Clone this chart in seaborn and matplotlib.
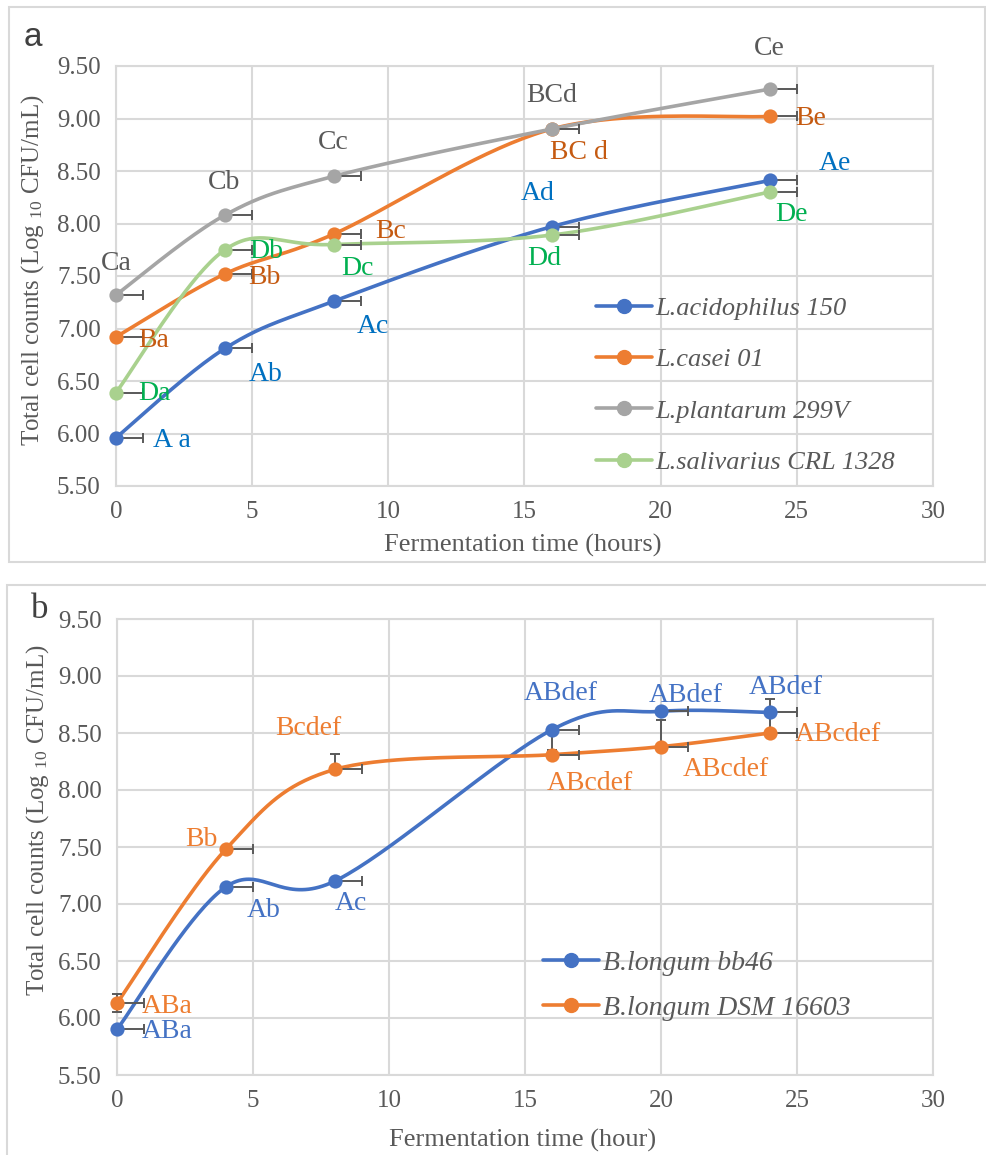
import numpy as np
import pandas as pd
import matplotlib
matplotlib.use("Agg")
import matplotlib.pyplot as plt
import seaborn as sns
from matplotlib.lines import Line2D
from matplotlib.patches import Rectangle

# ---------------- data ----------------
time_a = [0, 4, 8, 16, 24]
acidophilus = [5.96, 6.81, 7.26, 7.97, 8.41]
casei = [6.92, 7.52, 7.90, 8.90, 9.02]
plantarum = [7.32, 8.08, 8.45, 8.90, 9.28]
salivarius = [6.39, 7.75, 7.80, 7.89, 8.30]
names_a = ["L.acidophilus 150", "L.casei 01", "L.plantarum 299V", "L.salivarius CRL 1328"]

labels_acid = ["A a", "Ab", "Ac", "Ad", "Ae"]
labels_casei = ["Ba", "Bb", "Bc", "BC d", "Be"]
labels_plant = ["Ca", "Cb", "Cc", "BCd", "Ce"]
labels_saliv = ["Da", "Db", "Dc", "Dd", "De"]

time_b = [0, 4, 8, 16, 20, 24]
bb46 = [5.90, 7.15, 7.20, 8.53, 8.69, 8.68]
dsm16603 = [6.13, 7.48, 8.18, 8.31, 8.38, 8.50]
names_b = ["B.longum bb46", "B.longum DSM 16603"]
labels_bb46 = ["ABa", "Ab", "Ac", "ABdef", "ABdef", "ABdef"]
labels_dsm = ["ABa", "Bb", "Bcdef", "ABcdef", "ABcdef", "ABcdef"]

# error bars (x: +1 h; y: asymmetric)
xerr_plus = 1.0
bb46_yerr_low = [0, 0, 0, 0.18, 0, 0.16]
bb46_yerr_high = [0, 0, 0, 0, 0, 0.12]
dsm_yerr_low = [0.08, 0, 0, 0, 0, 0]
dsm_yerr_high = [0.08, 0, 0.14, 0, 0.23, 0]

# ---------------- style ----------------
sns.set_theme(style="whitegrid")
plt.rcParams["font.family"] = ["Liberation Serif", "DejaVu Serif"]
plt.rcParams["mathtext.fontset"] = "custom"
plt.rcParams["mathtext.rm"] = "Liberation Serif"
plt.rcParams["mathtext.default"] = "regular"

BLUE, ORANGE, GRAY, GREEN = "#4472C4", "#ED7D31", "#A5A5A5", "#A9D18E"
GRID = "#D9D9D9"
TXT = "#595959"
ERR = "#595959"

W, H = 987, 1155
fig = plt.figure(figsize=(W / 100, H / 100), dpi=100)


def px_axes(x0, x1, y0, y1):
    # pixel box (left, right, top, bottom) -> figure fraction
    return [x0 / W, 1 - y1 / H, (x1 - x0) / W, (y1 - y0) / H]


def smooth(xs, ys, n=40):
    # Excel-like smoothed line (Catmull-Rom / cubic Bezier)
    P = np.column_stack([xs, ys]).astype(float)
    out = []
    for i in range(len(P) - 1):
        p0 = P[i - 1] if i > 0 else P[i]
        p1, p2 = P[i], P[i + 1]
        p3 = P[i + 2] if i + 2 < len(P) else P[i + 1]
        c1 = p1 + (p2 - p0) / 6
        c2 = p2 - (p3 - p1) / 6
        t = np.linspace(0, 1, n)[:, None]
        seg = (1 - t) ** 3 * p1 + 3 * (1 - t) ** 2 * t * c1 + 3 * (1 - t) * t ** 2 * c2 + t ** 3 * p2
        out.append(seg if i == 0 else seg[1:])
    s = np.vstack(out)
    return s[:, 0], s[:, 1]


def style_axes(ax, xlabel, ylabel):
    ax.set_xlim(0, 30)
    ax.set_ylim(5.5, 9.5)
    ax.set_xticks(range(0, 31, 5))
    ax.set_yticks(np.arange(5.5, 9.51, 0.5))
    ax.set_yticklabels([f"{v:.2f}" for v in np.arange(5.5, 9.51, 0.5)])
    ax.grid(True, color=GRID, lw=1.5)
    for s in ax.spines.values():
        s.set_color(GRID)
        s.set_linewidth(1.5)
    ax.tick_params(axis="both", colors=TXT, labelsize=18, length=0)
    ax.tick_params(axis="x", pad=11)
    ax.tick_params(axis="y", pad=11)
    ax.set_xlabel(xlabel, fontsize=19, color=TXT, labelpad=4)
    ax.set_ylabel(ylabel, fontsize=18, color=TXT, labelpad=6)
    ax.set_facecolor("white")


def draw_series(ax, xs, ys, color, yerr=None, zorder=3):
    sx, sy = smooth(xs, ys)
    df = pd.DataFrame({"x": sx, "y": sy})
    nl = len(ax.lines)
    sns.lineplot(data=df, x="x", y="y", ax=ax, color=color, lw=2.6, sort=False,
                 estimator=None, zorder=zorder)
    for ln in ax.lines[nl:]:
        ln.set_clip_on(False)
    n = len(xs)
    eb = ax.errorbar(xs, ys, xerr=[[0] * n, [xerr_plus] * n], yerr=yerr, fmt="none",
                     ecolor=ERR, elinewidth=1.4, capsize=3.8, capthick=1.4, zorder=zorder + 0.5)
    for art in eb.lines[1] + eb.lines[2]:
        art.set_clip_on(False)
    pts = pd.DataFrame({"x": xs, "y": ys})
    nc = len(ax.collections)
    sns.scatterplot(data=pts, x="x", y="y", ax=ax, color=color, s=105,
                    edgecolor=color, linewidth=0, zorder=zorder + 1)
    for col in ax.collections[nc:]:
        col.set_clip_on(False)


# ---------------- panel borders ----------------
fig.patches.append(Rectangle((9 / W, 1 - 562 / H), (985 - 9) / W, (562 - 7) / H,
                             transform=fig.transFigure, fill=False, edgecolor=GRID, lw=1.5))
fig.patches.append(Rectangle((7 / W, 1 - 1160 / H), (992 - 7) / W, (1160 - 585) / H,
                             transform=fig.transFigure, fill=False, edgecolor=GRID, lw=1.5))

ylab = "Total cell counts (Log $_{10}$ CFU/mL)"

# ---------------- panel a ----------------
ax1 = fig.add_axes(px_axes(116, 933, 66, 486))
style_axes(ax1, "Fermentation time (hours)", ylab)
series_a = [(acidophilus, BLUE), (casei, ORANGE), (plantarum, GRAY), (salivarius, GREEN)]
for i, (ys, c) in enumerate(series_a):
    draw_series(ax1, time_a, ys, c, zorder=3 + i * 2)

pos_acid = [(2.06, 5.93), (5.51, 6.56), (9.45, 7.02), (15.48, 8.29), (26.4, 8.57)]
pos_casei = [(1.40, 6.89), (5.44, 7.49), (10.1, 7.92), (17.0, 8.68), (25.5, 9.0)]
pos_plant = [(0.0, 7.62), (3.97, 8.39), (7.98, 8.77), (16.0, 9.22), (24.0, 9.67)]
pos_saliv = [(1.43, 6.38), (5.51, 7.73), (8.86, 7.57), (15.74, 7.67), (24.8, 8.09)]
for labs, poss, col in [(labels_acid, pos_acid, "#0070C0"), (labels_casei, pos_casei, "#C55A11"),
                        (labels_plant, pos_plant, TXT), (labels_saliv, pos_saliv, "#00B050")]:
    for t, (x, y) in zip(labs, poss):
        ax1.text(x, y, t, color=col, fontsize=20, ha="center", va="center", clip_on=False, zorder=20)

handles_a = [Line2D([], [], color=c, lw=2.6, marker="o", markersize=10) for _, c in series_a]
ax1.legend(handles_a, names_a, loc="center left", bbox_to_anchor=(0.588, 0.24),
           frameon=False, prop={"style": "italic", "size": 19}, labelcolor=TXT,
           handlelength=2.1, handletextpad=0.15, labelspacing=1.06, borderpad=0, borderaxespad=0)

# ---------------- panel b ----------------
ax2 = fig.add_axes(px_axes(117, 933, 619, 1075))
style_axes(ax2, "Fermentation time (hour)", ylab)
draw_series(ax2, time_b, bb46, BLUE, yerr=[bb46_yerr_low, bb46_yerr_high], zorder=3)
draw_series(ax2, time_b, dsm16603, ORANGE, yerr=[dsm_yerr_low, dsm_yerr_high], zorder=5)

pos_bb46 = [(1.84, 5.88), (5.40, 6.94), (8.60, 7.00), (16.3, 8.85), (20.9, 8.83), (24.6, 8.90)]
pos_dsm = [(1.84, 6.10), (3.12, 7.57), (7.02, 8.54), (17.4, 8.06), (22.4, 8.18), (26.5, 8.49)]
for labs, poss, col in [(labels_bb46, pos_bb46, BLUE), (labels_dsm, pos_dsm, ORANGE)]:
    for t, (x, y) in zip(labs, poss):
        ax2.text(x, y, t, color=col, fontsize=20, ha="center", va="center", clip_on=False, zorder=20)

handles_b = [Line2D([], [], color=c, lw=2.6, marker="o", markersize=10) for c in (BLUE, ORANGE)]
ax2.legend(handles_b, names_b, loc="center left", bbox_to_anchor=(0.522, 0.196),
           frameon=False, prop={"style": "italic", "size": 20}, labelcolor=TXT,
           handlelength=2.0, handletextpad=0.15, labelspacing=0.7, borderpad=0, borderaxespad=0)

# panel letters
fig.text(33 / W, 1 - 37 / H, "a", fontsize=24, color="#404040", ha="center", va="center",
         family=["Liberation Sans", "DejaVu Sans"])
fig.text(40 / W, 1 - 610 / H, "b", fontsize=25, color="#404040", ha="center", va="center")

# axis label placement (pixel centers)
ax1.xaxis.set_label_coords((523 - 116) / (933 - 116), -(545 - 486) / 420)
ax1.yaxis.set_label_coords(-(116 - 33) / (933 - 116), (486 - 270) / 420)
ax2.xaxis.set_label_coords((523 - 117) / (933 - 117), -(1140 - 1075) / 456)
ax2.yaxis.set_label_coords(-(117 - 38) / (933 - 117), (1075 - 820) / 456)
for a in (ax1, ax2):
    a.xaxis.label.set_va("center")
    a.yaxis.label.set_va("center")

fig.savefig("out.png", dpi=100, facecolor="white")
